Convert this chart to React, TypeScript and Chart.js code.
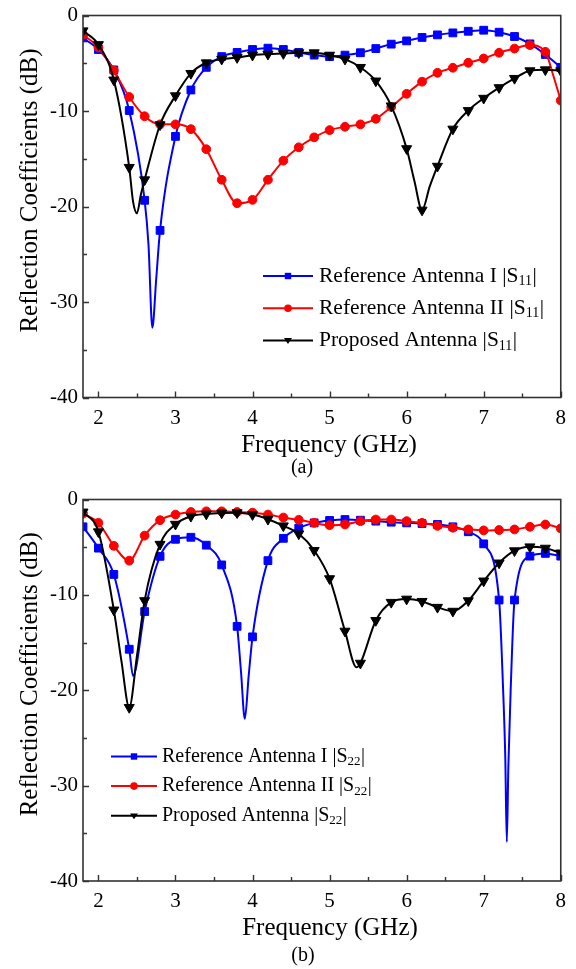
import React, { useEffect, useRef } from 'react';
import { Chart, registerables } from 'chart.js';

Chart.register(...registerables);

const FONT = '"Liberation Serif", "Times New Roman", serif';

// ---------- data ----------
const markerFreqs = [1.8, 2.0, 2.2, 2.4, 2.6, 2.8, 3.0, 3.2, 3.4, 3.6, 3.8, 4.0, 4.2, 4.4, 4.6, 4.8, 5.0, 5.2, 5.4, 5.6, 5.8, 6.0, 6.2, 6.4, 6.6, 6.8, 7.0, 7.2, 7.4, 7.6, 7.8, 8.0];

const xTicks = [2, 3, 4, 5, 6, 7, 8];
const yTicks = [-40, -30, -20, -10, 0];

const seriesNames = ['Reference Antenna I', 'Reference Antenna II', 'Proposed Antenna'];

// (a) |S11|
const s11RefI = [-2.35, -3.56, -5.7, -9.95, -19.35, -22.5, -12.66, -7.8, -5.43, -4.3, -3.87, -3.56, -3.42, -3.56, -3.87, -4.15, -4.3, -4.15, -3.9, -3.46, -3.0, -2.66, -2.3, -2.03, -1.82, -1.65, -1.54, -1.75, -2.2, -2.97, -4.08, -5.43];
const s11RefIExtraF = [2.65, 2.7, 2.75];
const s11RefIExtraV = [-24.0, -32.7, -27.6];

const s11RefII = [-2.0, -3.35, -5.75, -8.53, -10.55, -11.4, -11.4, -11.9, -14.0, -17.2, -19.66, -19.3, -17.2, -15.2, -13.8, -12.76, -12.0, -11.65, -11.4, -10.82, -9.57, -8.2, -6.93, -6.0, -5.47, -4.95, -4.5, -3.9, -3.46, -3.1, -3.8, -8.9];
const s11RefIIExtraF = [7.9];
const s11RefIIExtraV = [-6.2];

const s11Prop = [-1.6, -3.04, -6.75, -15.9, -17.2, -11.44, -8.4, -6.06, -4.95, -4.57, -4.4, -4.15, -4.05, -3.98, -3.9, -3.9, -4.15, -4.57, -5.43, -6.85, -9.46, -13.94, -20.37, -15.78, -11.89, -9.95, -8.66, -7.55, -6.58, -5.78, -5.68, -5.78];
const s11PropExtraF = [2.45, 2.5, 2.55, 6.1, 6.3];
const s11PropExtraV = [-19.5, -20.7, -18.8, -17.3, -17.9];

// (b) |S22|
const s22RefI = [-2.86, -5.1, -7.86, -15.7, -11.75, -5.96, -4.17, -3.96, -4.79, -6.86, -13.3, -14.4, -6.41, -4.07, -3.0, -2.45, -2.2, -2.1, -2.17, -2.27, -2.38, -2.45, -2.52, -2.62, -2.86, -3.38, -4.65, -10.54, -10.54, -5.94, -5.65, -5.94];
const s22RefIExtraF = [2.45, 3.85, 3.9, 3.95, 7.25, 7.28, 7.3, 7.32, 7.35];
const s22RefIExtraV = [-18.5, -18.0, -23.0, -18.5, -19.5, -27.0, -35.9, -28.0, -20.0];

const s22RefII = [-1.48, -2.45, -4.86, -6.41, -3.79, -2.17, -1.58, -1.31, -1.24, -1.24, -1.31, -1.38, -1.58, -1.89, -2.13, -2.45, -2.69, -2.62, -2.27, -2.1, -2.1, -2.27, -2.45, -2.76, -2.96, -3.14, -3.24, -3.2, -3.14, -2.86, -2.62, -3.03];
const s22RefIIExtraF: number[] = [];
const s22RefIIExtraV: number[] = [];

const s22Prop = [-1.31, -3.38, -11.58, -21.8, -10.6, -4.69, -2.59, -1.76, -1.52, -1.41, -1.38, -1.58, -2.07, -2.76, -3.6, -5.34, -8.3, -13.8, -17.16, -12.68, -10.78, -10.44, -10.68, -11.3, -11.71, -10.61, -8.54, -6.65, -5.37, -4.96, -5.1, -5.6];
const s22PropExtraF = [2.3, 2.5, 5.35];
const s22PropExtraV = [-17.0, -16.4, -17.6];

// ---------- helpers ----------
type Pt = { x: number; y: number; m: boolean };
function buildPoints(vals: number[], exF: number[], exV: number[]): Pt[] {
  const pts: Pt[] = markerFreqs.map((x, i) => ({ x, y: vals[i], m: true }));
  exF.forEach((x, i) => pts.push({ x, y: exV[i], m: false }));
  pts.sort((a, b) => a.x - b.x);
  return pts;
}

const STYLES = [
  { color: '#0000ff', pointStyle: 'rect', radius: 5.5, rotation: 0, order: 3 },
  { color: '#ff0000', pointStyle: 'circle', radius: 4.4, rotation: 0, order: 2 },
  { color: '#000000', pointStyle: 'triangle', radius: 5.8, rotation: 180, order: 1 },
];

function drawMarker(ctx: CanvasRenderingContext2D, kind: string, x: number, y: number, s: number) {
  ctx.beginPath();
  if (kind === 'rect') {
    ctx.rect(x - s, y - s, 2 * s, 2 * s);
  } else if (kind === 'circle') {
    ctx.arc(x, y, s, 0, Math.PI * 2);
  } else {
    ctx.moveTo(x - s * 1.05, y - s * 0.6);
    ctx.lineTo(x + s * 1.05, y - s * 0.6);
    ctx.lineTo(x, y + s * 0.95);
    ctx.closePath();
  }
  ctx.fill();
}

const decorPlugin = {
  id: 'decor',
  afterDraw(chart: any, _args: any, opts: any) {
    const { ctx, chartArea: a, scales } = chart;
    const xs = scales.x;
    const ys = scales.y;
    ctx.save();
    // inward tick marks
    ctx.strokeStyle = '#333';
    ctx.lineWidth = 1.4;
    ctx.beginPath();
    for (let k = 0; k <= 12; k++) {
      const v = 2 + k * 0.5;
      const px = Math.round(xs.getPixelForValue(v)) + 0.5;
      const len = k % 2 === 0 ? 6 : 4;
      ctx.moveTo(px, a.bottom);
      ctx.lineTo(px, a.bottom - len);
    }
    for (let k = 0; k <= 8; k++) {
      const v = -40 + k * 5;
      const py = Math.round(ys.getPixelForValue(v)) + 0.5;
      const len = k % 2 === 0 ? 6 : 4;
      ctx.moveTo(a.left, py);
      ctx.lineTo(a.left + len, py);
    }
    ctx.stroke();
    ctx.lineWidth = 1.6;
    ctx.strokeRect(a.left, a.top, a.right - a.left, a.bottom - a.top);

    // titles
    ctx.fillStyle = '#000';
    ctx.textAlign = 'center';
    ctx.textBaseline = 'middle';
    ctx.font = `25px ${FONT}`;
    ctx.fillText(opts.xTitle, opts.xTitleX, opts.xTitleY);
    ctx.font = `20px ${FONT}`;
    ctx.fillText(opts.caption, opts.captionX, opts.captionY);
    ctx.save();
    ctx.translate(opts.yTitleX, (a.top + a.bottom) / 2 + opts.yTitleShift);
    ctx.rotate(-Math.PI / 2);
    ctx.font = `25px ${FONT}`;
    ctx.fillText(opts.yTitle, 0, 0);
    ctx.restore();

    // legend
    const L = opts.legend;
    ctx.textAlign = 'left';
    seriesNames.forEach((name, i) => {
      const st = STYLES[i];
      const y = L.y0 + i * L.gap;
      ctx.strokeStyle = st.color;
      ctx.fillStyle = st.color;
      ctx.lineWidth = 2;
      ctx.beginPath();
      ctx.moveTo(L.x0, y);
      ctx.lineTo(L.x1, y);
      ctx.stroke();
      drawMarker(ctx, st.pointStyle, (L.x0 + L.x1) / 2, y, st.pointStyle === 'rect' ? 3.2 : 3.8);
      ctx.fillStyle = '#000';
      const main = `${name} |S`;
      ctx.font = `${L.fs}px ${FONT}`;
      ctx.fillText(main, L.tx, y);
      const w1 = ctx.measureText(main).width;
      ctx.font = `${L.sfs}px ${FONT}`;
      ctx.fillText(L.sub, L.tx + w1, y + L.subDy);
      const w2 = ctx.measureText(L.sub).width;
      ctx.font = `${L.fs}px ${FONT}`;
      ctx.fillText('|', L.tx + w1 + w2 + 0.5, y);
    });
    ctx.restore();
  },
};

function makeConfig(series: Pt[][], cfg: any): any {
  return {
    type: 'line',
    data: {
      datasets: series.map((pts, i) => ({
        data: pts,
        borderColor: STYLES[i].color,
        backgroundColor: STYLES[i].color,
        pointBackgroundColor: STYLES[i].color,
        pointBorderColor: STYLES[i].color,
        borderWidth: 2,
        pointStyle: STYLES[i].pointStyle,
        pointRotation: STYLES[i].rotation,
        pointBorderWidth: 1,
        pointRadius: (c: any) => (c.raw && c.raw.m ? STYLES[i].radius : 0),
        cubicInterpolationMode: 'monotone',
        order: STYLES[i].order,
        fill: false,
      })),
    },
    options: {
      responsive: false,
      animation: false,
      events: [],
      layout: { padding: { left: 0, right: 15, top: cfg.padTop, bottom: 0 } },
      plugins: {
        legend: { display: false },
        tooltip: { enabled: false },
        decor: cfg.decor,
      },
      scales: {
        x: {
          type: 'linear',
          min: 1.8,
          max: 8,
          grid: { display: false, drawTicks: false },
          border: { display: false },
          ticks: { color: '#000', padding: 10, font: { family: FONT, size: 21, lineHeight: 1 } },
          afterBuildTicks: (s: any) => {
            s.ticks = xTicks.map((v) => ({ value: v }));
          },
          afterFit: (s: any) => {
            s.height = cfg.H - cfg.padTop - cfg.plotH;
          },
        },
        y: {
          type: 'linear',
          min: -40,
          max: 0,
          grid: { display: false, drawTicks: false },
          border: { display: false },
          ticks: { color: '#000', padding: 5, font: { family: FONT, size: 21, lineHeight: 1 } },
          afterBuildTicks: (s: any) => {
            s.ticks = yTicks.map((v) => ({ value: v }));
          },
          afterFit: (s: any) => {
            s.width = 83;
          },
        },
      },
    },
    plugins: [decorPlugin],
  };
}

function ChartPanel({ series, cfg, top }: { series: Pt[][]; cfg: any; top: number }) {
  const ref = useRef<HTMLCanvasElement | null>(null);
  useEffect(() => {
    if (!ref.current) return;
    const chart = new Chart(ref.current, makeConfig(series, cfg));
    return () => chart.destroy();
  }, []);
  return (
    <canvas
      ref={ref}
      width={576}
      height={cfg.H}
      style={{ position: 'absolute', left: 0, top, width: 576, height: cfg.H }}
    />
  );
}

const cfgA = {
  H: 484,
  padTop: 13.5,
  plotH: 384,
  decor: {
    xTitle: 'Frequency (GHz)',
    xTitleX: 329,
    xTitleY: 445,
    caption: '(a)',
    captionX: 302,
    captionY: 468,
    yTitle: 'Reflection Coefficients (dB)',
    yTitleX: 30,
    yTitleShift: -16,
    legend: { x0: 263, x1: 313, tx: 319, y0: 276, gap: 32.2, fs: 21.5, sfs: 14, subDy: 5.5, sub: '11' },
  },
};

const cfgB = {
  H: 485,
  padTop: 10,
  plotH: 387,
  decor: {
    xTitle: 'Frequency (GHz)',
    xTitleX: 330,
    xTitleY: 444,
    caption: '(b)',
    captionX: 303,
    captionY: 472,
    yTitle: 'Reflection Coefficients (dB)',
    yTitleX: 30,
    yTitleShift: -16,
    legend: { x0: 111, x1: 157, tx: 162, y0: 272.5, gap: 29.6, fs: 20, sfs: 13, subDy: 5, sub: '22' },
  },
};

export default function App() {
  useEffect(() => {
    document.body.style.margin = '0';
  }, []);
  const seriesA = [
    buildPoints(s11RefI, s11RefIExtraF, s11RefIExtraV),
    buildPoints(s11RefII, s11RefIIExtraF, s11RefIIExtraV),
    buildPoints(s11Prop, s11PropExtraF, s11PropExtraV),
  ];
  const seriesB = [
    buildPoints(s22RefI, s22RefIExtraF, s22RefIExtraV),
    buildPoints(s22RefII, s22RefIIExtraF, s22RefIIExtraV),
    buildPoints(s22Prop, s22PropExtraF, s22PropExtraV),
  ];
  return (
    <div style={{ position: 'relative', width: 576, height: 969, background: '#fff', overflow: 'hidden' }}>
      <ChartPanel series={seriesA} cfg={cfgA} top={0} />
      <ChartPanel series={seriesB} cfg={cfgB} top={484} />
    </div>
  );
}
